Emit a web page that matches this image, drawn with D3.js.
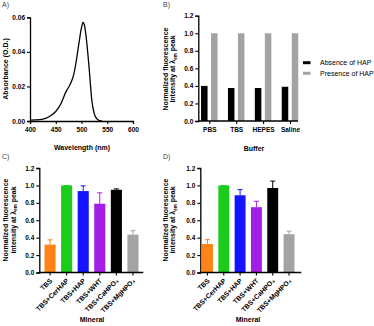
<!DOCTYPE html>
<html>
<head>
<meta charset="utf-8">
<script src="https://cdn.jsdelivr.net/npm/d3@7"></script>
<style>
  body { margin: 0; background: #fff; }
  svg text { font-family: "Liberation Sans", Arial, sans-serif; fill: #000; }
  .tick text { font-size: 6.5px; font-weight: bold; }
  .axisTitle { font-size: 7px; font-weight: bold; }
  .panel { font-size: 7px; fill: #444; }
  .legend { font-size: 7px; }
</style>
</head>
<body>
<div id="chart"></div>
<script>
// ---- data ----
// A) absorbance spectrum
const wavelengths = [400, 420, 430, 440, 450, 460, 465, 470, 475, 480, 485, 490, 495, 500, 503, 506, 510, 515, 520, 525, 530, 535, 540];
const absorbance  = [0.0005, 0.0008, 0.0015, 0.003, 0.0055, 0.010, 0.0135, 0.017, 0.0195, 0.0225, 0.027, 0.035, 0.045, 0.054, 0.057, 0.055, 0.046, 0.030, 0.012, 0.004, 0.0012, 0.0003, 0.0];
const absTicks = [0, 0.02, 0.04, 0.06];
const wlTicks = [400, 450, 500, 550, 600];

// B) buffers
const buffers = ["PBS", "TBS", "HEPES", "Saline"];
const absenceHAP  = [0.40, 0.376, 0.376, 0.39];
const presenceHAP = [1.0, 1.0, 1.0, 1.0];
const seriesB = ["Absence of HAP", "Presence of HAP"];
const colorsB = ["#000000", "#a3a3a3"];

// C) and D) minerals
const minerals = ["TBS", "TBS+CerHAP", "TBS+HAP", "TBS+WHT", "TBS+CaHPO\u2084", "TBS+MgHPO\u2084"];
const mineralColors = ["#ff8317", "#1ccc1c", "#1414ff", "#a31ee6", "#000000", "#a3a3a3"];
const valuesC = [0.32, 1.0, 0.935, 0.79, 0.95, 0.435];
const errorsC = [0.055, 0.0, 0.06, 0.125, 0.01, 0.045];
const valuesD = [0.327, 1.0, 0.887, 0.75, 0.97, 0.44];
const errorsD = [0.05, 0.0, 0.065, 0.068, 0.08, 0.035];
const normTicks = [0, 0.2, 0.4, 0.6, 0.8, 1.0, 1.2];

const width = 374, height = 326;
const svg = d3.select("#chart").append("svg")
  .attr("width", width).attr("height", height);

function styleAxis(g) {
  g.selectAll(".domain").attr("stroke", "#000").attr("stroke-width", 1.3);
  g.selectAll(".tick line").attr("stroke", "#000").attr("stroke-width", 1.1);
}

function yLabel(x, y, lines) {
  const t = svg.append("text").attr("class", "axisTitle")
    .attr("transform", `translate(${x},${y}) rotate(-90)`)
    .attr("text-anchor", "middle");
  t.append("tspan").attr("x", 0).attr("dy", 0).text(lines[0]);
  if (lines.length > 1) {
    const l2 = t.append("tspan").attr("x", 0).attr("dy", 7.5);
    l2.append("tspan").text(lines[1]);
    l2.append("tspan").attr("font-size", 4.5).attr("dy", 1.5).text("em");
    l2.append("tspan").attr("dy", -1.5).text(" peak");
  }
}

// ---------- A ----------
const xA = d3.scaleLinear().domain([400, 600]).range([30, 133]);
const yA = d3.scaleLinear().domain([0, 0.06]).range([121, 17.3]);

svg.append("g").attr("transform", "translate(0,121)")
  .call(d3.axisBottom(xA).tickValues(wlTicks).tickSize(3).tickPadding(3).tickFormat(d3.format("d")))
  .call(styleAxis);
svg.append("g").attr("transform", "translate(30,0)")
  .call(d3.axisLeft(yA).tickValues(absTicks).tickSize(3).tickPadding(2).tickFormat(d3.format(".2f")))
  .call(styleAxis);

svg.append("path")
  .datum(wavelengths.map((w, i) => [w, absorbance[i]]))
  .attr("fill", "none").attr("stroke", "#000").attr("stroke-width", 1.3)
  .attr("d", d3.line().x(d => xA(d[0])).y(d => yA(d[1])).curve(d3.curveMonotoneX));

svg.append("text").attr("class", "axisTitle").attr("x", 82).attr("y", 150)
  .attr("text-anchor", "middle").text("Wavelength (nm)");
svg.append("text").attr("class", "axisTitle")
  .attr("transform", "translate(8,69) rotate(-90)").attr("text-anchor", "middle")
  .text("Absorbance (O.D.)");
svg.append("text").attr("class", "panel").attr("x", 2).attr("y", 7).text("A)");

// ---------- B ----------
const xB = d3.scalePoint().domain(buffers).range([209.3, 290]);
const subB = d3.scaleBand().domain(seriesB).range([-8.25, 8.25]).paddingInner(0.35);
const yB = d3.scaleLinear().domain([0, 1.2]).range([121, 15.7]);

const groupsB = svg.append("g").selectAll("g")
  .data(buffers).enter().append("g")
  .attr("transform", d => `translate(${xB(d)},0)`);
groupsB.selectAll("rect")
  .data((d, i) => [absenceHAP[i], presenceHAP[i]].map((v, j) => ({ v: v, s: seriesB[j], c: colorsB[j] })))
  .enter().append("rect")
  .attr("x", d => subB(d.s))
  .attr("width", subB.bandwidth())
  .attr("y", d => yB(d.v))
  .attr("height", d => yB(0) - yB(d.v))
  .attr("fill", d => d.c);

svg.append("g").attr("transform", "translate(0,121)")
  .call(d3.axisBottom(xB).tickSize(3).tickPadding(3).tickSizeOuter(0))
  .call(g => g.select(".domain").attr("d", "M198.3,0H298"))
  .call(styleAxis);
svg.append("g").attr("transform", "translate(198.3,0)")
  .call(d3.axisLeft(yB).tickValues(normTicks).tickSize(3).tickPadding(2).tickFormat(d3.format(".1f")))
  .call(styleAxis);

svg.append("text").attr("class", "axisTitle").attr("x", 254).attr("y", 151)
  .attr("text-anchor", "middle").text("Buffer");
yLabel(167.5, 69, ["Normalized fluorescence", "Intensity at \u03bb"]);
svg.append("text").attr("class", "panel").attr("x", 163).attr("y", 7).text("B)");

const legB = svg.append("g").selectAll("g").data(seriesB).enter().append("g")
  .attr("transform", (d, i) => `translate(303,${62.7 + i * 10.6})`);
legB.append("rect").attr("x", 0).attr("y", -1.5).attr("width", 7.5).attr("height", 3)
  .attr("fill", (d, i) => colorsB[i]);
legB.append("text").attr("class", "legend").attr("x", 17).attr("y", 2.5).text(d => d);

// ---------- C & D ----------
function mineralPanel(vals, errs, axisX, axisEnd, bandRange, labelX, titleX) {
  const x = d3.scaleBand().domain(minerals).range(bandRange).paddingInner(0.33);
  const y = d3.scaleLinear().domain([0, 1.2]).range([272.5, 168]);

  const bars = svg.append("g").selectAll("g").data(minerals).enter().append("g");
  bars.append("line")
    .attr("x1", d => x(d) + x.bandwidth() / 2)
    .attr("x2", d => x(d) + x.bandwidth() / 2)
    .attr("y1", (d, i) => y(vals[i]))
    .attr("y2", (d, i) => y(vals[i] + errs[i]))
    .attr("stroke", (d, i) => mineralColors[i]).attr("stroke-width", 1);
  bars.append("line")
    .attr("x1", d => x(d) + x.bandwidth() / 2 - 2.5)
    .attr("x2", d => x(d) + x.bandwidth() / 2 + 2.5)
    .attr("y1", (d, i) => y(vals[i] + errs[i]))
    .attr("y2", (d, i) => y(vals[i] + errs[i]))
    .attr("stroke", (d, i) => mineralColors[i]).attr("stroke-width", 1);
  bars.append("rect")
    .attr("x", d => x(d))
    .attr("width", x.bandwidth())
    .attr("y", (d, i) => y(vals[i]))
    .attr("height", (d, i) => y(0) - y(vals[i]))
    .attr("fill", (d, i) => mineralColors[i]);

  const xa = svg.append("g").attr("transform", "translate(0,272.5)")
    .call(d3.axisBottom(x).tickSize(3).tickPadding(2).tickSizeOuter(0))
    .call(g => g.select(".domain").attr("d", `M${axisX},0H${axisEnd}`))
    .call(styleAxis);
  xa.selectAll(".tick text")
    .attr("x", 0).attr("y", 0)
    .attr("text-anchor", "end")
    .attr("dy", "0.35em")
    .style("font-size", "6.8px")
    .attr("transform", "translate(1,7) rotate(-45)");

  svg.append("g").attr("transform", `translate(${axisX},0)`)
    .call(d3.axisLeft(y).tickValues(normTicks).tickSize(3).tickPadding(2).tickFormat(d3.format(".1f")))
    .call(styleAxis);

  svg.append("text").attr("class", "axisTitle").attr("x", titleX).attr("y", 322)
    .attr("text-anchor", "middle").text("Mineral");
  yLabel(labelX, 220, ["Normalized fluorescence", "intensity at \u03bb"]);
}

mineralPanel(valuesC, errorsC, 39.3, 143.3, [44.5, 138.5], 8, 92);
mineralPanel(valuesD, errorsD, 200.3, 301.3, [202, 294.5], 167.5, 248);
svg.append("text").attr("class", "panel").attr("x", 2).attr("y", 159).text("C)");
svg.append("text").attr("class", "panel").attr("x", 163).attr("y", 159).text("D)");
</script>
</body>
</html>
